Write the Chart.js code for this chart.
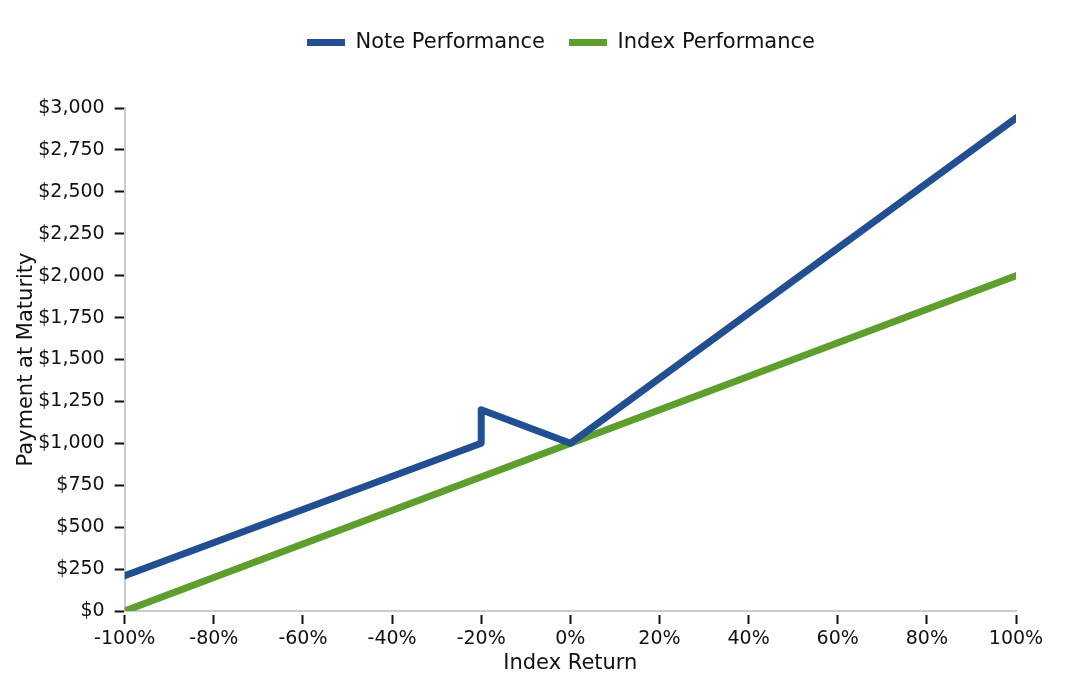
<!DOCTYPE html>
<html>
<head>
<meta charset="utf-8">
<script src="https://cdn.jsdelivr.net/npm/chart.js@4/dist/chart.umd.min.js"></script>
<style>
    html, body { margin: 0; padding: 0; background: #fff; }
    #wrap { width: 1088px; height: 688px; }
</style>
</head>
<body>
<div id="wrap"><canvas id="canvas"></canvas></div>
<script>
// index return (%) and payment at maturity ($)
var noteReturns = [-100, -20, -20, 0, 100];
var notePayments = [210, 1000, 1200, 1000, 2940];
var indexReturns = [-100, 100];
var indexPayments = [0, 2000];

var seriesNames = ['Note Performance', 'Index Performance'];
var xTitle = 'Index Return';
var yTitle = 'Payment at Maturity';

var font = 'DejaVu Sans';

function toPoints(xs, ys) {
    return xs.map(function (x, i) { return { x: x, y: ys[i] }; });
}

document.addEventListener('DOMContentLoaded', function () {
    var canvas = document.getElementById('canvas');

    // push the plot down below the legend, and center legend over the plot
    var legendGap = {
        id: 'legendGap',
        beforeInit: function (chart) {
            var fit = chart.legend.fit;
            chart.legend.fit = function () {
                fit.bind(this)();
                this.height += 45;
            };
        },
        afterLayout: function (chart) {
            chart.legend.left += 46;
            chart.legend.right += 46;
        }
    };

    var lineStyle = {
        fill: false,
        borderWidth: 7,
        borderCapStyle: 'round',
        borderJoinStyle: 'round',
        pointRadius: 0,
        tension: 0,
    };

    var tickGrid = {
        drawOnChartArea: false,
        tickLength: 13,
        tickColor: '#111',
        tickWidth: 2,
        tickBorderDash: [0, 3, 10, 100],
    };

    var config = {
        type: 'line',
        data: {
            datasets: [
                Object.assign({
                    label: seriesNames[0],
                    data: toPoints(noteReturns, notePayments),
                    borderColor: '#214f92',
                    backgroundColor: '#214f92',
                }, lineStyle),
                Object.assign({
                    label: seriesNames[1],
                    data: toPoints(indexReturns, indexPayments),
                    borderColor: '#5e9e2d',
                    backgroundColor: '#5e9e2d',
                }, lineStyle),
            ]
        },
        options: {
            responsive: true,
            maintainAspectRatio: false,
            animation: false,
            layout: {
                padding: { left: 14, right: 72, top: 8, bottom: 12 }
            },
            plugins: {
                legend: {
                    display: true,
                    position: 'top',
                    labels: {
                        usePointStyle: true,
                        pointStyle: 'line',
                        pointStyleWidth: 38,
                        boxWidth: 38,
                        padding: 24,
                        color: '#111',
                        font: { family: font, size: 21 },
                    }
                },
                tooltip: { enabled: false },
            },
            scales: {
                x: {
                    type: 'linear',
                    min: -100,
                    max: 100,
                    border: { color: '#c8ccd1', width: 2 },
                    grid: tickGrid,
                    ticks: {
                        stepSize: 20,
                        color: '#111',
                        padding: 4,
                        font: { family: font, size: 19 },
                        callback: function (v) { return v + '%'; }
                    },
                    title: {
                        display: true,
                        text: xTitle,
                        color: '#111',
                        padding: { top: -4, bottom: 0 },
                        font: { family: font, size: 21 },
                    }
                },
                y: {
                    min: 0,
                    max: 3000,
                    border: { color: '#c8ccd1', width: 2 },
                    grid: tickGrid,
                    ticks: {
                        stepSize: 250,
                        color: '#111',
                        padding: 7,
                        font: { family: font, size: 19 },
                        callback: function (v) { return '$' + v.toLocaleString('en-US'); }
                    },
                    title: {
                        display: true,
                        text: yTitle,
                        color: '#111',
                        padding: { top: 0, bottom: -8 },
                        font: { family: font, size: 21 },
                    }
                }
            }
        },
        plugins: [legendGap],
    };

    window.chart = new Chart(canvas, config);
});
</script>
</body>
</html>
